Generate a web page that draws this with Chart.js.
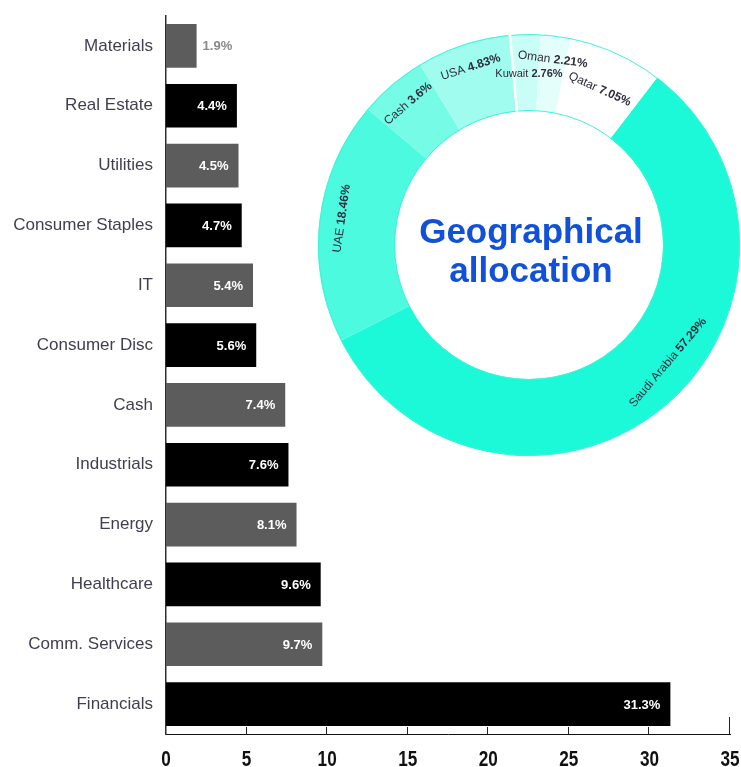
<!DOCTYPE html>
<html>
<head>
<meta charset="utf-8">
<script src="https://cdn.jsdelivr.net/npm/chart.js@4.4.1/dist/chart.umd.min.js"></script>
<style>
  body { margin: 0; background: #fff; }
  #wrap { position: relative; width: 741px; height: 767px; }
  #sectors { position: absolute; left: 0; top: 0; }
  #geo { position: absolute; left: 318px; top: 34px; }
</style>
</head>
<body>
<div id="wrap">
  <canvas id="sectors" width="741" height="767"></canvas>
  <canvas id="geo" width="422" height="422"></canvas>
</div>
<script>
// sector allocation (bars, top to bottom)
const sectorLabels = ['Materials', 'Real Estate', 'Utilities', 'Consumer Staples', 'IT', 'Consumer Disc',
    'Cash', 'Industrials', 'Energy', 'Healthcare', 'Comm. Services', 'Financials'];
const sectorValues = [1.9, 4.4, 4.5, 4.7, 5.4, 5.6, 7.4, 7.6, 8.1, 9.6, 9.7, 31.3];
const xTickValues = [0, 5, 10, 15, 20, 25, 30, 35];

// geographical allocation (ring, clockwise from Saudi Arabia)
const geoNames = ['Saudi Arabia', 'UAE', 'Cash', 'USA', 'Kuwait', 'Oman', 'Qatar'];
const geoPct = [57.29, 18.46, 3.6, 4.83, 2.76, 2.21, 7.05];
// slice sizes as they are drawn in the ring
const geoShares = [57.0, 18.6, 5.2, 7.2, 2.3, 2.3, 7.2];

const barColors = sectorValues.map((v, i) => i % 2 === 0 ? '#5c5c5c' : '#000000');
const geoColors = ['#1bf9d8', '#4cfae0', '#76fbe6', '#a0fcee', '#c9fef6', '#e4fffb', '#ffffff'];

const barValueLabels = {
    id: 'barValueLabels',
    afterDatasetsDraw(chart) {
        const ctx = chart.ctx;
        const meta = chart.getDatasetMeta(0);
        ctx.save();
        ctx.font = 'bold 13px "Liberation Sans", Arial, sans-serif';
        ctx.textBaseline = 'middle';
        meta.data.forEach((bar, i) => {
            const text = sectorValues[i].toFixed(1) + '%';
            const w = ctx.measureText(text).width;
            if (bar.x - bar.base > w + 16) {
                ctx.fillStyle = '#ffffff';
                ctx.textAlign = 'right';
                ctx.fillText(text, bar.x - 10, bar.y + 1);
            } else {
                // too small, put it outside
                ctx.fillStyle = '#8a8a8a';
                ctx.textAlign = 'left';
                ctx.fillText(text, bar.x + 6, bar.y + 1);
            }
        });
        ctx.restore();
    }
};

// ticks pointing up into the plot + condensed bold tick numbers
const xAxisDecor = {
    id: 'xAxisDecor',
    afterDraw(chart) {
        const xScale = chart.scales.x;
        const ctx = chart.ctx;
        const bottom = chart.chartArea.bottom;
        ctx.save();
        ctx.strokeStyle = '#222';
        ctx.lineWidth = 1;
        xScale.ticks.forEach((t, i) => {
            if (i === 0) return;
            const px = Math.round(xScale.getPixelForValue(t.value)) - 0.5;
            const len = i === xScale.ticks.length - 1 ? 17 : 7;
            ctx.beginPath();
            ctx.moveTo(px, bottom);
            ctx.lineTo(px, bottom - len);
            ctx.stroke();
        });

        ctx.fillStyle = '#111';
        ctx.font = 'bold 22px "Liberation Sans", Arial, sans-serif';
        ctx.textAlign = 'center';
        ctx.textBaseline = 'alphabetic';
        xScale.ticks.forEach((t) => {
            const px = xScale.getPixelForValue(t.value);
            ctx.save();
            ctx.translate(px, bottom + 32);
            ctx.scale(0.78, 1);
            ctx.fillText(String(t.value), 0, 0);
            ctx.restore();
        });
        ctx.restore();
    }
};

new Chart(document.getElementById('sectors'), {
    type: 'bar',
    data: {
        labels: sectorLabels,
        datasets: [{
            data: sectorValues,
            backgroundColor: barColors,
            barPercentage: 0.73,
            categoryPercentage: 1
        }]
    },
    options: {
        indexAxis: 'y',
        responsive: false,
        animation: false,
        layout: {padding: {top: 16, right: 11, left: 0, bottom: 0}},
        plugins: {
            legend: {display: false},
            tooltip: {enabled: false}
        },
        scales: {
            x: {
                min: 0,
                max: 35,
                afterBuildTicks: (scale) => {
                    scale.ticks = xTickValues.map(v => ({value: v}));
                },
                afterFit: (scale) => {
                    scale.height = 33;
                    scale.paddingLeft = 0;
                    scale.paddingRight = 0;
                },
                grid: {display: false, drawTicks: false},
                border: {color: '#111', width: 1},
                ticks: {display: false}
            },
            y: {
                afterFit: (scale) => {
                    scale.width = 166;
                    scale.paddingTop = 0;
                    scale.paddingBottom = 0;
                },
                grid: {display: false, drawTicks: false},
                border: {color: '#2e2e3a', width: 1.5},
                ticks: {
                    color: '#3f3f50',
                    padding: 13,
                    font: {family: '"Liberation Sans", Arial, sans-serif', size: 17}
                }
            }
        }
    },
    plugins: [barValueLabels, xAxisDecor]
});

const ringDecor = {
    id: 'ringDecor',
    afterDatasetsDraw(chart, args, opts) {
        const ctx = chart.ctx;
        const arcs = chart.getDatasetMeta(0).data;
        const cx = arcs[0].x, cy = arcs[0].y;
        const R = arcs[0].outerRadius, r = arcs[0].innerRadius;
        ctx.save();

        // ring outline
        ctx.strokeStyle = '#3ff3d9';
        ctx.lineWidth = 1;
        ctx.beginPath();
        ctx.arc(cx, cy, R - 0.5, 0, Math.PI * 2);
        ctx.stroke();
        ctx.beginPath();
        ctx.arc(cx, cy, r + 0.5, 0, Math.PI * 2);
        ctx.stroke();

        // white gap before Kuwait
        const a = arcs[4].startAngle;
        ctx.strokeStyle = '#ffffff';
        ctx.lineWidth = 2.5;
        ctx.beginPath();
        ctx.moveTo(cx + r * Math.cos(a), cy + r * Math.sin(a));
        ctx.lineTo(cx + R * Math.cos(a), cy + R * Math.sin(a));
        ctx.stroke();

        // slice labels along the ring
        ctx.textBaseline = 'middle';
        ctx.textAlign = 'left';
        ctx.fillStyle = '#2d2d3d';
        arcs.forEach((arc, i) => {
            const mid = (arc.startAngle + arc.endAngle) / 2 + (opts.nudge[i] || 0) * Math.PI / 180;
            const rad = opts.radius[i];
            const px = cx + rad * Math.cos(mid);
            const py = cy + rad * Math.sin(mid);
            let rot = mid + Math.PI / 2;
            while (rot > Math.PI) rot -= Math.PI * 2;
            while (rot <= -Math.PI) rot += Math.PI * 2;
            if (rot > Math.PI / 2) rot -= Math.PI;
            if (rot < -Math.PI / 2) rot += Math.PI;

            const size = opts.size[i] || 12;
            const name = geoNames[i] + ' ';
            const val = geoPct[i] + '%';
            ctx.font = size + 'px "Liberation Sans", Arial, sans-serif';
            const w1 = ctx.measureText(name).width;
            ctx.font = 'bold ' + size + 'px "Liberation Sans", Arial, sans-serif';
            const w2 = ctx.measureText(val).width;

            ctx.save();
            ctx.translate(px, py);
            ctx.rotate(rot);
            ctx.font = size + 'px "Liberation Sans", Arial, sans-serif';
            ctx.fillText(name, -(w1 + w2) / 2, 0);
            ctx.font = 'bold ' + size + 'px "Liberation Sans", Arial, sans-serif';
            ctx.fillText(val, -(w1 + w2) / 2 + w1, 0);
            ctx.restore();
        });

        // title in the hole
        ctx.fillStyle = '#1150d8';
        ctx.textAlign = 'center';
        ctx.textBaseline = 'alphabetic';
        ctx.font = 'bold 35px "Liberation Sans", Arial, sans-serif';
        ctx.fillText('Geographical', cx + 2, cy - 2);
        ctx.fillText('allocation', cx + 2, cy + 37);
        ctx.restore();
    }
};

new Chart(document.getElementById('geo'), {
    type: 'doughnut',
    data: {
        labels: geoNames,
        datasets: [{
            data: geoShares,
            backgroundColor: geoColors,
            borderWidth: 0
        }]
    },
    options: {
        responsive: false,
        animation: false,
        events: [],
        rotation: 37.4,
        cutout: '63.5%',
        layout: {padding: 0},
        plugins: {
            legend: {display: false},
            tooltip: {enabled: false},
            ringDecor: {
                radius: [182, 189, 186, 187, 171, 187, 171],
                nudge: [-10, 1.5, 0, 0, 1, 0, 0],
                size: [12, 12, 12, 12, 11, 12, 12]
            }
        }
    },
    plugins: [ringDecor]
});
</script>
</body>
</html>
